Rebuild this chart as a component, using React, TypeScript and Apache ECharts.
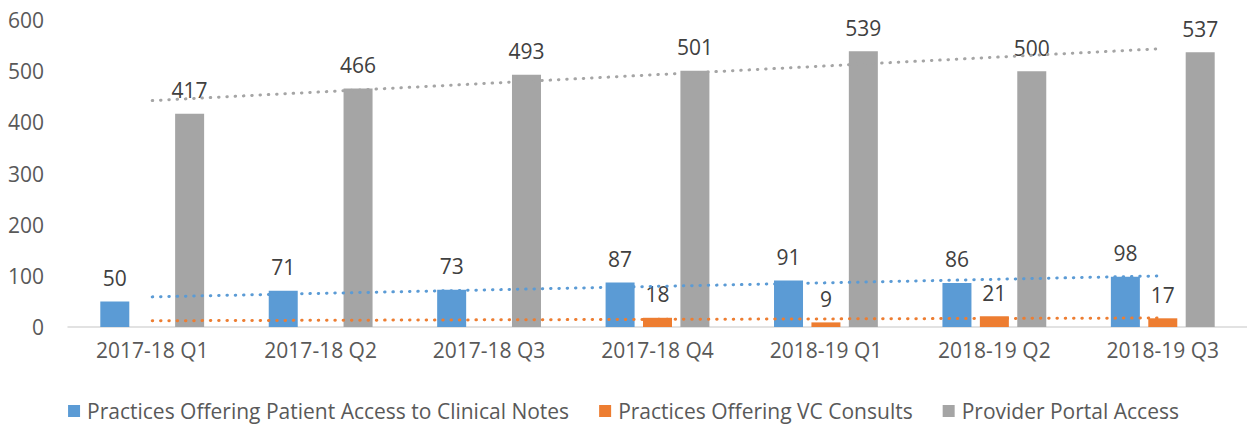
import React, { useEffect, useRef } from "react";
import * as echarts from "echarts";

const categories = [
  "2017-18 Q1",
  "2017-18 Q2",
  "2017-18 Q3",
  "2017-18 Q4",
  "2018-19 Q1",
  "2018-19 Q2",
  "2018-19 Q3",
];
const clinicalNotes = [50, 71, 73, 87, 91, 86, 98];
const vcConsults: (number | null)[] = [null, null, null, 18, 9, 21, 17];
const providerPortal = [417, 466, 493, 501, 539, 500, 537];
const yTicks = { min: 0, max: 600, interval: 100 };

const seriesNames = [
  "Practices Offering Patient Access to Clinical Notes",
  "Practices Offering VC Consults",
  "Provider Portal Access",
];
const colors = ["#5B9BD5", "#ED7D31", "#A5A5A5"];

// Linear (least squares) trendline through the non-empty points, evaluated at every category
function linearTrend(values: (number | null)[]): number[] {
  const pts = values
    .map((v, i) => [i, v] as [number, number | null])
    .filter((p) => p[1] !== null) as [number, number][];
  const n = pts.length;
  const mx = pts.reduce((s, p) => s + p[0], 0) / n;
  const my = pts.reduce((s, p) => s + p[1], 0) / n;
  let sxy = 0;
  let sxx = 0;
  pts.forEach(([x, y]) => {
    sxy += (x - mx) * (y - my);
    sxx += (x - mx) * (x - mx);
  });
  const slope = sxx === 0 ? 0 : sxy / sxx;
  return values.map((_, i) => my + slope * (i - mx));
}

const FONT = "'Open Sans', sans-serif";

export default function App() {
  const ref = useRef<HTMLDivElement>(null);

  useEffect(() => {
    if (!ref.current) return;
    const chart = echarts.init(ref.current, undefined, { renderer: "svg" });
    const dataSets = [clinicalNotes, vcConsults, providerPortal];

    const barSeries = dataSets.map((d, i) => ({
      name: seriesNames[i],
      type: "bar",
      data: d,
      barWidth: 29,
      barGap: "29%",
      itemStyle: { color: colors[i] },
      label: {
        show: true,
        position: "top",
        distance: 13,
        fontFamily: FONT,
        fontSize: 21,
        color: "#404040",
      },
      z: 2,
    }));

    const trendSeries = dataSets.map((d, i) => ({
      name: seriesNames[i] + " trend",
      type: "line",
      data: linearTrend(d).map((v) => +v.toFixed(3)),
      symbol: "none",
      silent: true,
      lineStyle: {
        color: colors[i],
        width: 3,
        type: [0.5, 7.8],
        cap: "round",
      },
      z: 5,
    }));

    chart.setOption({
      animation: false,
      textStyle: { fontFamily: FONT },
      grid: { left: 68, right: 0, top: 20, bottom: 99, containLabel: false },
      legend: {
        data: seriesNames.map((n, i) => ({ name: n, itemStyle: { color: colors[i] } })),
        bottom: 2,
        left: "center",
        padding: 0,
        icon: "rect",
        itemWidth: 12,
        itemHeight: 12,
        itemGap: 30,
        textStyle: { fontFamily: FONT, fontSize: 21, color: "#595959", lineHeight: 26, padding: [0, 0, 0, 2] },
      },
      xAxis: {
        type: "category",
        data: categories,
        axisLine: { show: true, lineStyle: { color: "#D9D9D9", width: 1.5 } },
        axisTick: { show: false },
        axisLabel: { fontFamily: FONT, fontSize: 21, color: "#595959", margin: 12 },
        splitLine: { show: false },
      },
      yAxis: {
        type: "value",
        min: yTicks.min,
        max: yTicks.max,
        interval: yTicks.interval,
        axisLine: { show: false },
        axisTick: { show: false },
        splitLine: { show: false },
        axisLabel: { fontFamily: FONT, fontSize: 21, color: "#595959", margin: 24 },
      },
      series: [...barSeries, ...trendSeries],
    });

    return () => chart.dispose();
  }, []);

  return (
    <div
      ref={ref}
      style={{ position: "absolute", left: 0, top: 0, width: 1247, height: 426 }}
    />
  );
}
